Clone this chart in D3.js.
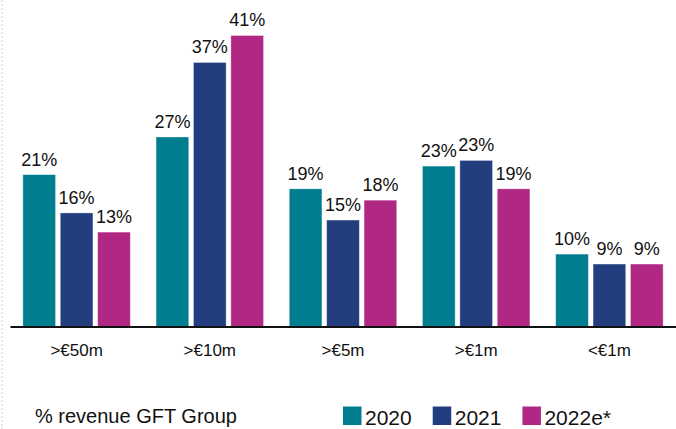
<!DOCTYPE html>
<html>
<head>
<meta charset="utf-8">
<script src="https://cdn.jsdelivr.net/npm/d3@7"></script>
<style>
  html, body { margin: 0; padding: 0; background: #fff; }
  svg { display: block; font-family: "Liberation Sans", Arial, sans-serif; }
</style>
</head>
<body>
<svg id="chart" width="676" height="429"></svg>
<script>
const categories = [">€50m", ">€10m", ">€5m", ">€1m", "<€1m"];
const seriesNames = ["2020", "2021", "2022e*"];
const values2020 = [21.4, 26.7, 19.4, 22.6, 10.2];
const values2021 = [16.0, 37.2, 15.0, 23.4, 8.8];
const values2022 = [13.3, 41.0, 17.8, 19.4, 8.8];
const colors = ["#007d8f", "#223e7f", "#b02884"];
const footnote = "% revenue GFT Group";

const seriesValues = [values2020, values2021, values2022];
const rows = [];
categories.forEach((c, i) => {
  seriesNames.forEach((s, j) => rows.push({ cat: c, series: s, value: seriesValues[j][i], color: colors[j] }));
});

const svg = d3.select("#chart");
const W = 676, H = 429;
const baseY = 326.5;

// faint dotted slide edge on the left
svg.append("line")
  .attr("x1", 2).attr("x2", 2).attr("y1", 0).attr("y2", H)
  .attr("stroke", "#e4e4e4").attr("stroke-width", 2)
  .attr("stroke-dasharray", "2,2");

const x0 = d3.scaleBand().domain(categories).range([10, W]).padding(0);
const x1 = d3.scaleBand().domain(seriesNames).range([0, x0.bandwidth()])
  .paddingInner(0.126).paddingOuter(0.344);
const y = d3.scaleLinear().domain([0, 46]).range([baseY, 0]);

const g = svg.append("g");

g.selectAll("rect.bar").data(rows).join("rect")
  .attr("class", "bar")
  .attr("x", d => x0(d.cat) + x1(d.series))
  .attr("y", d => y(d.value))
  .attr("width", x1.bandwidth())
  .attr("height", d => y(0) - y(d.value))
  .attr("fill", d => d.color)
  .attr("stroke", "#ffffff")
  .attr("stroke-opacity", 0.45)
  .attr("stroke-width", 0.8);

const fmt = d => d3.format(".0f")(d) + "%";
g.selectAll("text.val").data(rows).join("text")
  .attr("class", "val")
  .attr("x", d => x0(d.cat) + x1(d.series) + x1.bandwidth() / 2)
  .attr("y", d => y(d.value) - 9)
  .attr("text-anchor", "middle")
  .attr("font-size", 18)
  .attr("fill", "#111")
  .text(d => fmt(d.value));

// x axis
const xAxis = d3.axisBottom(x0).tickSize(0).tickPadding(17);
const ax = svg.append("g").attr("transform", `translate(0,${baseY})`).call(xAxis);
ax.select(".domain").attr("stroke", "#111").attr("stroke-width", 2);
ax.selectAll("text").attr("font-size", 17).attr("fill", "#111")
  .attr("font-family", "Liberation Sans, Arial, sans-serif");

// footnote
svg.append("text")
  .attr("x", 35).attr("y", 423)
  .attr("font-size", 20).attr("fill", "#111")
  .text(footnote);

// legend
const legend = svg.append("g");
let lx = 343;
seriesNames.forEach((s, j) => {
  legend.append("rect")
    .attr("x", lx).attr("y", 406.5)
    .attr("width", 18.5).attr("height", 18.5)
    .attr("fill", colors[j]);
  const t = legend.append("text")
    .attr("x", lx + 22).attr("y", 424.5)
    .attr("font-size", 21).attr("fill", "#111")
    .text(s);
  lx += 22 + t.node().getComputedTextLength() + 21;
});
</script>
</body>
</html>
